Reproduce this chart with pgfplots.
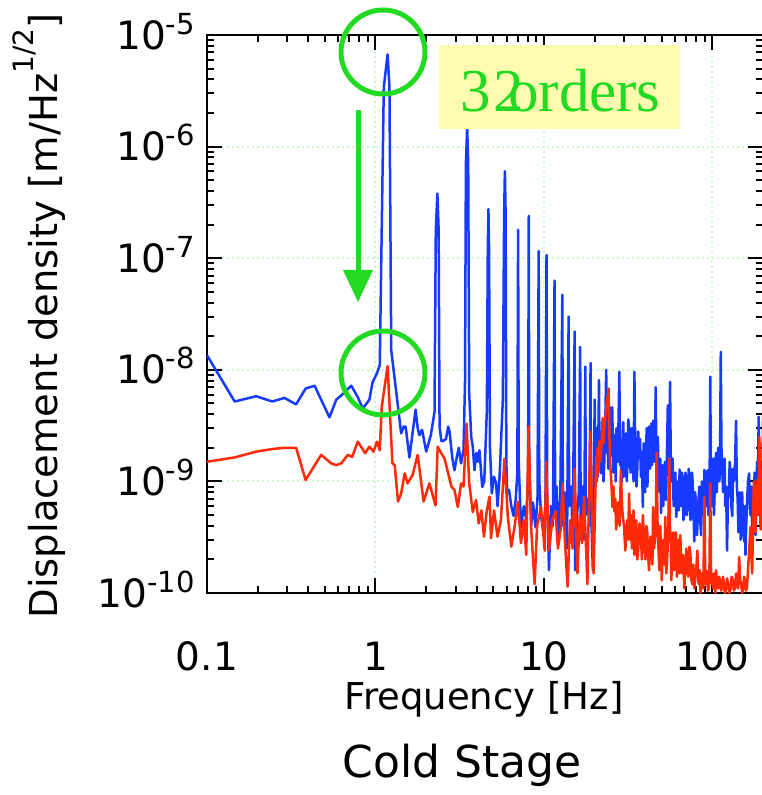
\documentclass[border=0pt]{standalone}
\usepackage{pgfplots}
\pgfplotsset{compat=1.18}
\usepackage{fontspec}
\setmainfont{DejaVu Sans}
\newfontfamily\seriffont{Liberation Serif}
\definecolor{myblue}{RGB}{22,58,255}
\definecolor{myred}{RGB}{255,42,8}
\definecolor{mygreen}{RGB}{34,218,34}
\definecolor{gridg}{RGB}{205,250,205}
\definecolor{boxy}{RGB}{255,251,175}
\newcommand\tl[1]{10\raisebox{15pt}{\fontsize{29}{29}\selectfont #1}}

\begin{document}
\begin{tikzpicture}
\begin{axis}[
  at={(207pt,202pt)}, anchor=south west,
  scale only axis, width=556.2pt, height=558pt,
  xmode=log, ymode=log,
  xmin=0.1, xmax=200, ymin=1e-10, ymax=1e-5,
  axis line style={line width=2.5pt},
  tick pos=both, tick align=inside,
  major tick length=15pt, minor tick length=7pt,
  every tick/.style={black, line width=2pt},
  xtick={0.1,1,10,100}, xticklabels={0.1,1,10,100},
  minor xtick={0.2,0.3,0.4,0.5,0.6,0.7,0.8,0.9,2,3,4,5,6,7,8,9,20,30,40,50,60,70,80,90,200},
  ytick={1e-10,1e-9,1e-8,1e-7,1e-6,1e-5},
  yticklabels={\tl{-10},\tl{-9},\tl{-8},\tl{-7},\tl{-6},\tl{-5}},
  minor ytick={2e-10,3e-10,4e-10,5e-10,6e-10,7e-10,8e-10,9e-10,
    2e-9,3e-9,4e-9,5e-9,6e-9,7e-9,8e-9,9e-9,
    2e-8,3e-8,4e-8,5e-8,6e-8,7e-8,8e-8,9e-8,
    2e-7,3e-7,4e-7,5e-7,6e-7,7e-7,8e-7,9e-7,
    2e-6,3e-6,4e-6,5e-6,6e-6,7e-6,8e-6,9e-6},
  xticklabel style={font=\fontsize{39}{39}\selectfont, anchor=base, yshift=-77pt},
  yticklabel style={font=\fontsize{39}{39}\selectfont, anchor=base east, inner sep=0pt, xshift=-12pt, yshift=-14pt},
  xmajorgrids, ymajorgrids,
  major grid style={gridg, line width=2pt, dash pattern=on 2pt off 3pt},
  every axis plot/.append style={line width=2.5pt, line join=round, mark=none},
]
\addplot[myblue] table {
0.1 1.35e-8
0.146 5.2e-9
0.196 5.8e-9
0.244 5.2e-9
0.288 5.6e-9
0.338 4.9e-9
0.385 6.8e-9
0.435 7.2e-9
0.533 3.75e-9
0.585 5.4e-9
0.65 6.2e-9
0.718 7.2e-9
0.785 5.7e-9
0.84 4.5e-9
0.92 5.4e-9
0.96 7.7e-9
1.02 9.3e-9
1.06 1.1e-8
1.12 3.4e-6
1.18 6.7e-6
1.21 3.4e-6
1.24 1.5e-8
1.42 2.7e-9
1.47 3.1e-9
1.51 3.1e-9
1.59 1.64e-9
1.73 4.4e-9
1.78 3.0e-9
1.82 2.6e-9
1.89 2.9e-9
2.0 1.85e-9
2.13 2.6e-9
2.24 4.2e-9
2.28 1.8e-7
2.33 3.8e-7
2.37 1.8e-7
2.40 3.1e-9
2.46 2.3e-9
2.51 2.3e-9
2.62 2.4e-9
2.70 3.1e-9
2.75 2.8e-9
2.86 1.6e-9
2.94 1.26e-9
3.05 1.7e-9
3.12 2.0e-9
3.22 1.45e-9
3.33 1.9e-9
3.40 8e-9
3.44 7e-7
3.50 1.5e-6
3.55 7e-7
3.60 6e-9
3.70 2.5e-9
3.78 2.05e-9
3.87 1.26e-9
3.97 1.8e-9
4.05 1.5e-9
4.14 1.9e-9
4.30 8.9e-10
4.42 1.0e-9
4.58 4.3e-9
4.64 1.26e-7
4.68 2.75e-7
4.72 1.26e-7
4.78 2.0e-9
4.9 7.8e-10
5.05 1.1e-9
5.2 9.6e-10
5.3 6e-10
5.45 1.1e-9
5.70 5.5e-9
5.80 2.5e-7
5.86 6e-7
5.92 2.5e-7
5.98 1.5e-9
6.05 7.8e-10
6.2 8.4e-10
6.4 6e-10
6.6 4.9e-10
6.8 7e-10
6.95 1.2e-9
7.02 1.8e-7
7.08 1.5e-9
7.3 3.9e-10
7.6 6e-10
7.85 4.5e-10
8.05 1.2e-9
8.12 2.4e-7
8.18 1.3e-9
8.4 4.0e-10
8.6 6.5e-10
8.9 3.9e-10
9.15 7e-10
9.3 1.16e-7
9.38 1.0e-9
9.6 5e-10
9.9 3.5e-10
10.2 6e-10
10.35 1.07e-7
10.45 8e-10
10.7 1.6e-10
11.0 6e-10
11.3 4e-10
11.55 6.3e-8
11.65 5e-10
11.9 9e-10
12.2 3e-10
12.5 7e-10
12.85 4.7e-8
12.95 4e-10
13.3 8e-10
13.7 2.5e-10
14.0 3e-8
14.1 6e-10
14.5 9e-10
14.8 3e-10
15.2 2.2e-8
15.3 1.6e-10
15.7 5e-10
16.1 8e-10
16.4 1.6e-8
16.5 4e-10
16.9 9e-10
17.3 3e-10
17.6 1.07e-8
17.7 5e-10
18.2 7e-10
18.6 4e-10
18.9 1.15e-8
19.0 6e-10
19.5 1.6e-10
20.0 5.4e-9
20.15 1.0e-9
20.3 1.2e-9
20.5 3.0e-9
20.7 2.5e-9
20.9 1.1e-9
21.2 8.1e-9
21.35 1.6e-9
21.5 2e-9
21.8 1.18e-9
22.0 2.8e-9
22.3 2.5e-9
22.55 1.0e-9
22.8 1.5e-9
23.1 3.2e-9
23.4 1e-8
23.6 1.8e-9
23.8 2.5e-9
24.1 1.3e-9
24.4 2.0e-9
24.65 4.0e-9
24.9 4.6e-9
25.15 1.7e-9
25.4 4.6e-9
25.6 2.5e-9
25.8 1.2e-9
26.1 2.6e-9
26.4 1.8e-9
26.65 1.0e-9
26.9 3.0e-9
27.15 2.0e-9
27.4 1.5e-9
27.7 3.5e-9
28.0 9.6e-9
28.3 1.4e-9
28.6 2.0e-9
28.95 1.0e-9
29.3 2.3e-9
29.55 3.4e-9
29.8 1.1e-9
30.25 2.0e-9
30.7 2.7e-9
31.0 1.0e-9
31.3 1.5e-9
31.65 3.6e-9
32 3.0e-9
32.35 1.4e-9
32.7 1.2e-9
33.15 3.0e-9
33.6 2.2e-9
34.0 1.0e-9
34.4 9.6e-9
34.7 2.8e-9
35.0 2.0e-9
35.4 0.9e-9
35.8 1.3e-9
36.25 2.8e-9
36.7 1.66e-9
37.15 2.4e-9
37.6 1.1e-9
38.1 1.8e-9
38.6 5.9e-10
39.0 2.2e-9
39.4 1.6e-9
39.85 0.8e-9
40.3 1.9e-9
40.7 3.0e-9
41.1 9e-10
41.55 1.8e-9
42 3.1e-9
42.6 1.3e-9
43.2 3.3e-9
43.8 1.4e-9
44.4 3.5e-9
44.8 2.2e-9
45.2 1.5e-9
45.6 2.6e-9
46 7e-9
46.4 2.0e-9
46.8 1.3e-9
47.1 2.5e-9
47.4 2.5e-9
47.9 1.0e-9
48.5 8e-10
49.0 1.6e-9
49.5 5.2e-10
50.0 1.1e-9
50.5 1.4e-9
51.0 6e-10
51.5 9e-10
52.2 1.5e-9
53 6.8e-10
53.7 1.9e-9
54.3 4.8e-9
54.6 1.6e-9
55 1.2e-9
55.5 2.2e-9
56 7.8e-9
56.5 1.8e-9
57 1.0e-9
57.5 1.4e-9
58 1.6e-9
58.8 6e-10
59.5 7e-10
60.2 1.2e-9
61 4.8e-10
61.8 8e-10
62.5 1.0e-9
63.2 5.5e-10
63.8 1.28e-9
64.4 9e-10
65 6e-10
65.7 1.2e-9
66.5 1.1e-9
67.2 4.5e-10
68 5e-10
69 1.2e-9
69.8 1.1e-9
70.6 5e-10
71.5 7e-10
72.2 1.3e-9
73 1.1e-9
74 4.5e-10
75 5e-10
75.5 1.2e-9
76 1.1e-9
77 6e-10
78 2.9e-10
78.8 8e-10
79.5 7e-10
80.2 3.5e-10
81 3.3e-10
82.2 6e-10
83.5 9e-10
84.5 4.5e-10
85.6 3.3e-10
86.5 1.0e-9
87.5 8e-10
88.5 5e-10
89.6 1.27e-9
90.5 9e-10
91.5 6e-10
92.5 1.1e-9
93.5 1.26e-9
94.5 5e-10
95.5 6.8e-10
96.3 1.5e-9
97 8.7e-9
97.8 1.2e-9
98.5 1.0e-9
99.2 6e-10
100 9.7e-10
101 1.6e-9
102 5e-10
103 8e-10
104 1.5e-9
105 1.8e-9
106 8e-10
107 1.2e-9
108 2.0e-9
109 1.4e-9
110 1.0e-9
111 2.2e-9
112 1.45e-8
113 2.0e-9
114 1.5e-9
115.5 8e-10
117 1.1e-9
118 1.6e-9
119 6e-10
120.5 9e-10
122 2.4e-10
123.5 7e-10
125 8e-10
126.5 1.5e-9
128 1.2e-9
129.5 6e-10
131 4.9e-10
132.5 1.3e-9
134 1.0e-9
136 1.4e-9
138 3.5e-9
139.5 9e-10
141 7e-10
142.5 3.5e-10
144 5.2e-10
145.5 8e-10
147 3e-10
148.5 5e-10
150 8e-10
152 4e-10
154 2.9e-10
155.5 6e-10
157 2.2e-10
158.5 4e-10
160 6e-10
162.5 1.0e-9
165 1.18e-9
166.5 6e-10
168 5e-10
170 9e-10
172 3.9e-10
174 6e-10
176 8e-10
178 1.2e-9
180 3.3e-10
182 7e-10
184 1.5e-9
186 9e-10
188 3.8e-9
189.5 1.0e-9
191 6e-10
193 1.5e-9
195 1.2e-9
197 7e-10
200 5e-9
};
\addplot[myred] table {
0.1 1.5e-9
0.146 1.64e-9
0.196 1.85e-9
0.244 1.95e-9
0.288 2.0e-9
0.338 2.0e-9
0.385 1.03e-9
0.476 1.73e-9
0.546 1.45e-9
0.585 1.4e-9
0.626 1.45e-9
0.685 1.73e-9
0.727 1.66e-9
0.785 2.27e-9
0.869 1.79e-9
0.92 2.05e-9
0.973 1.85e-9
1.02 2.27e-9
1.06 1.9e-9
1.09 4.7e-9
1.18 1.08e-8
1.26 1.45e-9
1.30 1.4e-9
1.36 6.6e-10
1.42 7.8e-10
1.49 1.18e-9
1.55 9.6e-10
1.66 1.14e-9
1.78 1.73e-9
1.93 6.6e-10
2.09 9.6e-10
2.27 6.1e-10
2.34 2.05e-9
2.45 1.8e-9
2.57 1.6e-9
2.7 1.18e-9
2.83 8.9e-10
2.94 8.4e-10
3.08 5.9e-10
3.22 9.6e-10
3.33 9e-10
3.47 3.3e-9
3.6 9.6e-10
3.78 5.3e-10
3.95 6.8e-10
4.1 4.2e-10
4.25 5.5e-10
4.4 3.2e-10
4.58 5.5e-10
4.75 7.3e-10
4.85 3.1e-10
5.05 5.5e-10
5.3 3.2e-10
5.55 4.5e-10
5.83 1.6e-9
6.1 4.8e-10
6.4 2.6e-10
6.7 4e-10
7.0 6.6e-10
7.3 2.8e-10
7.6 4.5e-10
7.85 2.2e-10
8.1 3.1e-9
8.4 3.7e-10
8.8 1.2e-10
9.1 4e-10
9.6 5.9e-10
10.1 2.4e-10
10.3 1.5e-9
10.7 2.4e-10
11.2 4.5e-10
11.7 5.4e-10
12.1 2.5e-10
12.6 3.9e-10
12.9 9.6e-10
13.3 3e-10
13.8 1.14e-10
14.3 4.5e-10
14.8 2.5e-10
15.2 1.3e-9
15.8 1.5e-10
16.3 5e-10
16.8 2.8e-10
17.3 7.3e-10
18.1 1.2e-10
18.8 2.8e-9
19.3 5e-10
19.7 1.5e-10
20.4 1.66e-9
20.6 1.0e-9
20.8 2.0e-9
21.05 1.2e-9
21.3 2.3e-9
21.55 1.5e-9
21.8 1.8e-9
22.05 2.6e-9
22.3 3.7e-9
22.55 2.2e-9
22.8 3.0e-9
23.1 3.6e-9
23.4 4.5e-9
23.8 5.5e-9
24.2 6.8e-9
24.45 2.5e-9
24.7 1.45e-9
25.1 1.0e-9
25.5 5.9e-10
25.85 9e-10
26.2 5.4e-10
26.5 7e-10
26.8 3.7e-10
27.2 5e-10
27.6 6.5e-10
28.1 4e-10
28.6 1.26e-9
28.95 7e-10
29.3 5e-10
29.85 4e-10
30.4 2.4e-10
30.8 3.5e-10
31.2 4.5e-10
31.6 3e-10
32 7.8e-10
32.45 3e-10
32.9 5e-10
33.25 2.5e-10
33.6 3.5e-10
34.0 5.5e-10
34.4 2.2e-10
34.85 3.2e-10
35.3 4.5e-10
35.8 2e-10
36.3 2.5e-10
36.9 4.2e-10
37.6 3.3e-10
38.1 2.0e-10
38.6 5e-10
39.3 3.0e-10
40 2e-10
40.5 4e-10
41 3.5e-10
41.5 2.2e-10
42 1.6e-10
42.8 3.2e-10
43.6 2.5e-10
44.0 1.8e-10
44.4 5.9e-10
45.0 2.5e-10
45.5 3e-10
46.1 4e-10
46.6 1.8e-9
47.2 4e-10
47.8 2.5e-10
48.4 1.6e-10
49 4e-10
49.5 2.2e-10
50 1.3e-10
50.6 2.5e-10
51.2 3e-10
51.8 1.8e-10
52.5 4.8e-10
53.2 1.5e-10
54 2.2e-10
54.7 4e-10
55.4 1.6e-9
55.9 4e-10
56.5 3e-10
57 1.3e-10
57.7 2.5e-10
58.5 3.5e-10
59.2 1.6e-10
60 2.4e-10
60.7 3.5e-10
61.5 1.4e-10
62.2 2e-10
63 3e-10
63.7 1.5e-10
64.4 3.3e-10
65.2 2e-10
66 1.5e-10
67 2.2e-10
68 1.1e-10
69 1.6e-10
70 2.5e-10
71 1.6e-10
72 1.4e-10
73 2.6e-10
74 2.2e-10
75 1.3e-10
76 1.2e-10
77 1.8e-10
78 1.1e-10
79 1.4e-10
80 1.6e-10
81.4 2.4e-10
82.2 1.3e-10
83 1.2e-10
84 1.6e-10
85 1.0e-10
86 1.3e-10
87 1.5e-10
88.3 1.1e-10
89.6 7.3e-10
90.3 2e-10
91 1.2e-10
92 1.6e-10
93 1.4e-10
94 1.05e-10
95 1.1e-10
96 1.8e-10
97 9.6e-10
98 1.6e-10
99 1.2e-10
100 1.4e-10
101 1.1e-10
102 1.5e-10
103 1.3e-10
104 1.0e-10
105 1.6e-10
106.5 1.2e-10
108 1.1e-10
109.5 1.4e-10
111 1.3e-10
112.5 1.05e-10
114 1.1e-10
115.5 1.4e-10
117 1.2e-10
118.5 1.0e-10
120 1.05e-10
122 1.35e-10
124 1.2e-10
126 1.0e-10
128 1.1e-10
130 1.4e-10
132 1.3e-10
134 1.05e-10
136 1.1e-10
138 1.5e-10
140 1.3e-10
142 1.1e-10
144 2.1e-10
146 1.3e-10
148 1.2e-10
150 1.0e-10
152 1.1e-10
154 1.4e-10
156 1.3e-10
158 1.05e-10
160 1.1e-10
162.5 1.6e-10
165 2.4e-10
168 3.9e-10
170 2.2e-10
172 1.5e-10
174 4e-10
176 1e-9
178 6e-10
180 3.5e-10
182 6e-10
184 1.03e-9
186 7e-10
188 5e-10
190 2.5e-9
191.5 6e-10
193 3.7e-10
194.5 8e-10
196 1.2e-9
198 9e-10
200 2.3e-9
};
\end{axis}
% labels
\node[rotate=90, anchor=base, font=\fontsize{38.5}{38.5}\selectfont, inner sep=0pt] at (57pt,479pt)
  {Displacement density [m/Hz\raisebox{0.62em}{\fontsize{28}{28}\selectfont 1/2}]};
\node[anchor=base, font=\fontsize{37}{37}\selectfont, inner sep=0pt] at (484pt,85pt) {Frequency [Hz]};
\node[anchor=base, font=\fontsize{44}{44}\selectfont, inner sep=0pt] at (462pt,17pt) {Cold Stage};
% annotations
\draw[mygreen, line width=5pt] (383pt,743pt) circle (42pt);
\draw[mygreen, line width=5pt] (383pt,422pt) circle (42pt);
\draw[mygreen, line width=5pt] (358pt,685pt) -- (358pt,525pt);
\fill[mygreen] (343pt,525pt) -- (373pt,525pt) -- (358pt,493pt) -- cycle;
\fill[boxy] (439pt,666pt) rectangle (680pt,750pt);
\node[anchor=base west, inner sep=0pt, text=mygreen, font=\seriffont\fontsize{61}{61}\selectfont] at (460pt,683pt) {3};
\node[anchor=base west, inner sep=0pt, text=mygreen, font=\seriffont\fontsize{61}{61}\selectfont] at (493pt,683pt) {2};
\node[anchor=base west, inner sep=0pt, text=mygreen, font=\seriffont\fontsize{61}{61}\selectfont] at (508pt,683pt) {orders};
\pgfresetboundingbox
\path (0pt,0pt) rectangle (762pt,795pt);
\end{tikzpicture}
\end{document}
